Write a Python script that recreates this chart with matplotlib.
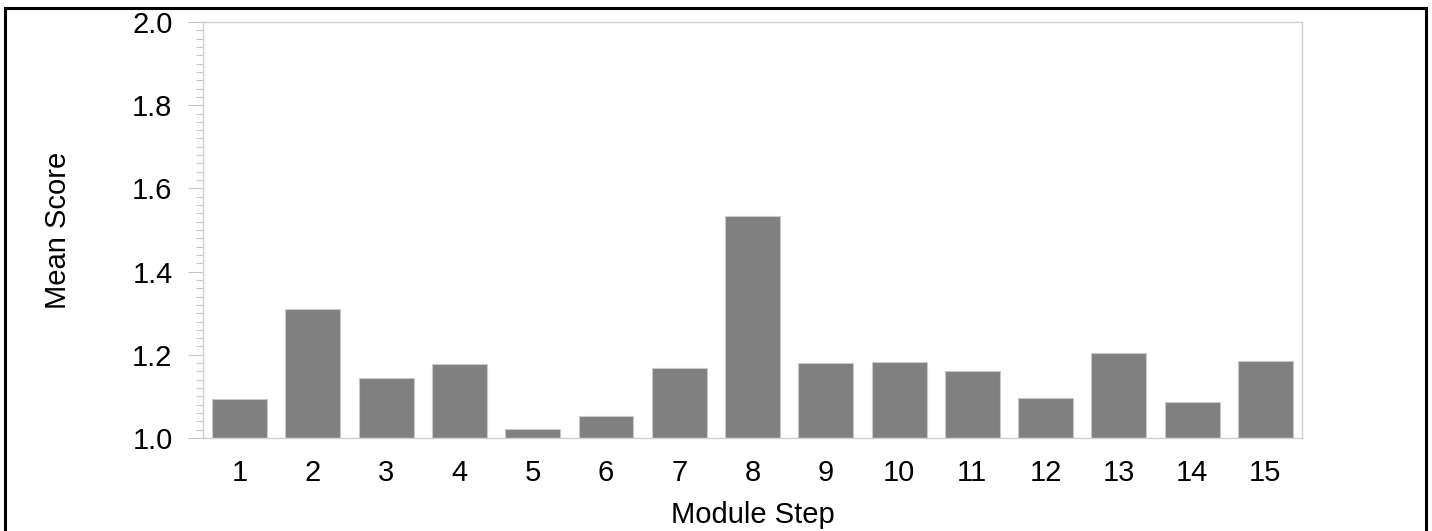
import matplotlib.pyplot as plt
from matplotlib.patches import Rectangle
from matplotlib.ticker import MultipleLocator

plt.rcParams['font.family'] = ['Liberation Sans', 'DejaVu Sans']

steps = list(range(1, 16))
mean_score = [1.093, 1.310, 1.145, 1.178, 1.021, 1.052, 1.168, 1.534,
              1.180, 1.182, 1.160, 1.097, 1.204, 1.087, 1.185]

fig = plt.figure(figsize=(14.32, 5.31), dpi=100)
ax = fig.add_axes([0.1418, 0.1751, 0.7674, 0.7835])

ax.bar(steps, [v - 1.0 for v in mean_score], bottom=1.0, width=0.75,
       color='#808080', edgecolor='#c8c8c8', linewidth=0.8)

ax.set_xlim(0.5, 15.5)
ax.set_ylim(1.0, 2.0)
ax.set_xticks(steps)
ax.set_xticklabels([str(s) for s in steps])
ax.set_yticks([1.0, 1.2, 1.4, 1.6, 1.8, 2.0])
ax.set_yticklabels(['1.0', '1.2', '1.4', '1.6', '1.8', '2.0'])
ax.yaxis.set_minor_locator(MultipleLocator(0.02))

for sp in ax.spines.values():
    sp.set_color('#d0d0d0')
    sp.set_linewidth(1.0)

ax.tick_params(axis='x', length=0, pad=15, labelsize=21)
ax.tick_params(axis='y', which='major', length=11, width=0.8, color='#c8c8c8',
               pad=11, labelsize=21)
ax.tick_params(axis='y', which='minor', length=5, width=0.8, color='#c8c8c8')

fig.text(58 / 1432, 0.567, 'Mean Score', rotation=90, ha='center', va='center',
         fontsize=21)
fig.text(0.5255, 0.030, 'Module Step', ha='center', va='center', fontsize=21)

# outer frame (bottom edge falls outside the image)
fig.patches.append(Rectangle((0.0035, -0.05), 0.9923, 1.034,
                             transform=fig.transFigure, fill=False,
                             edgecolor='black', linewidth=2.2))

fig.savefig('out.png', dpi=100)
